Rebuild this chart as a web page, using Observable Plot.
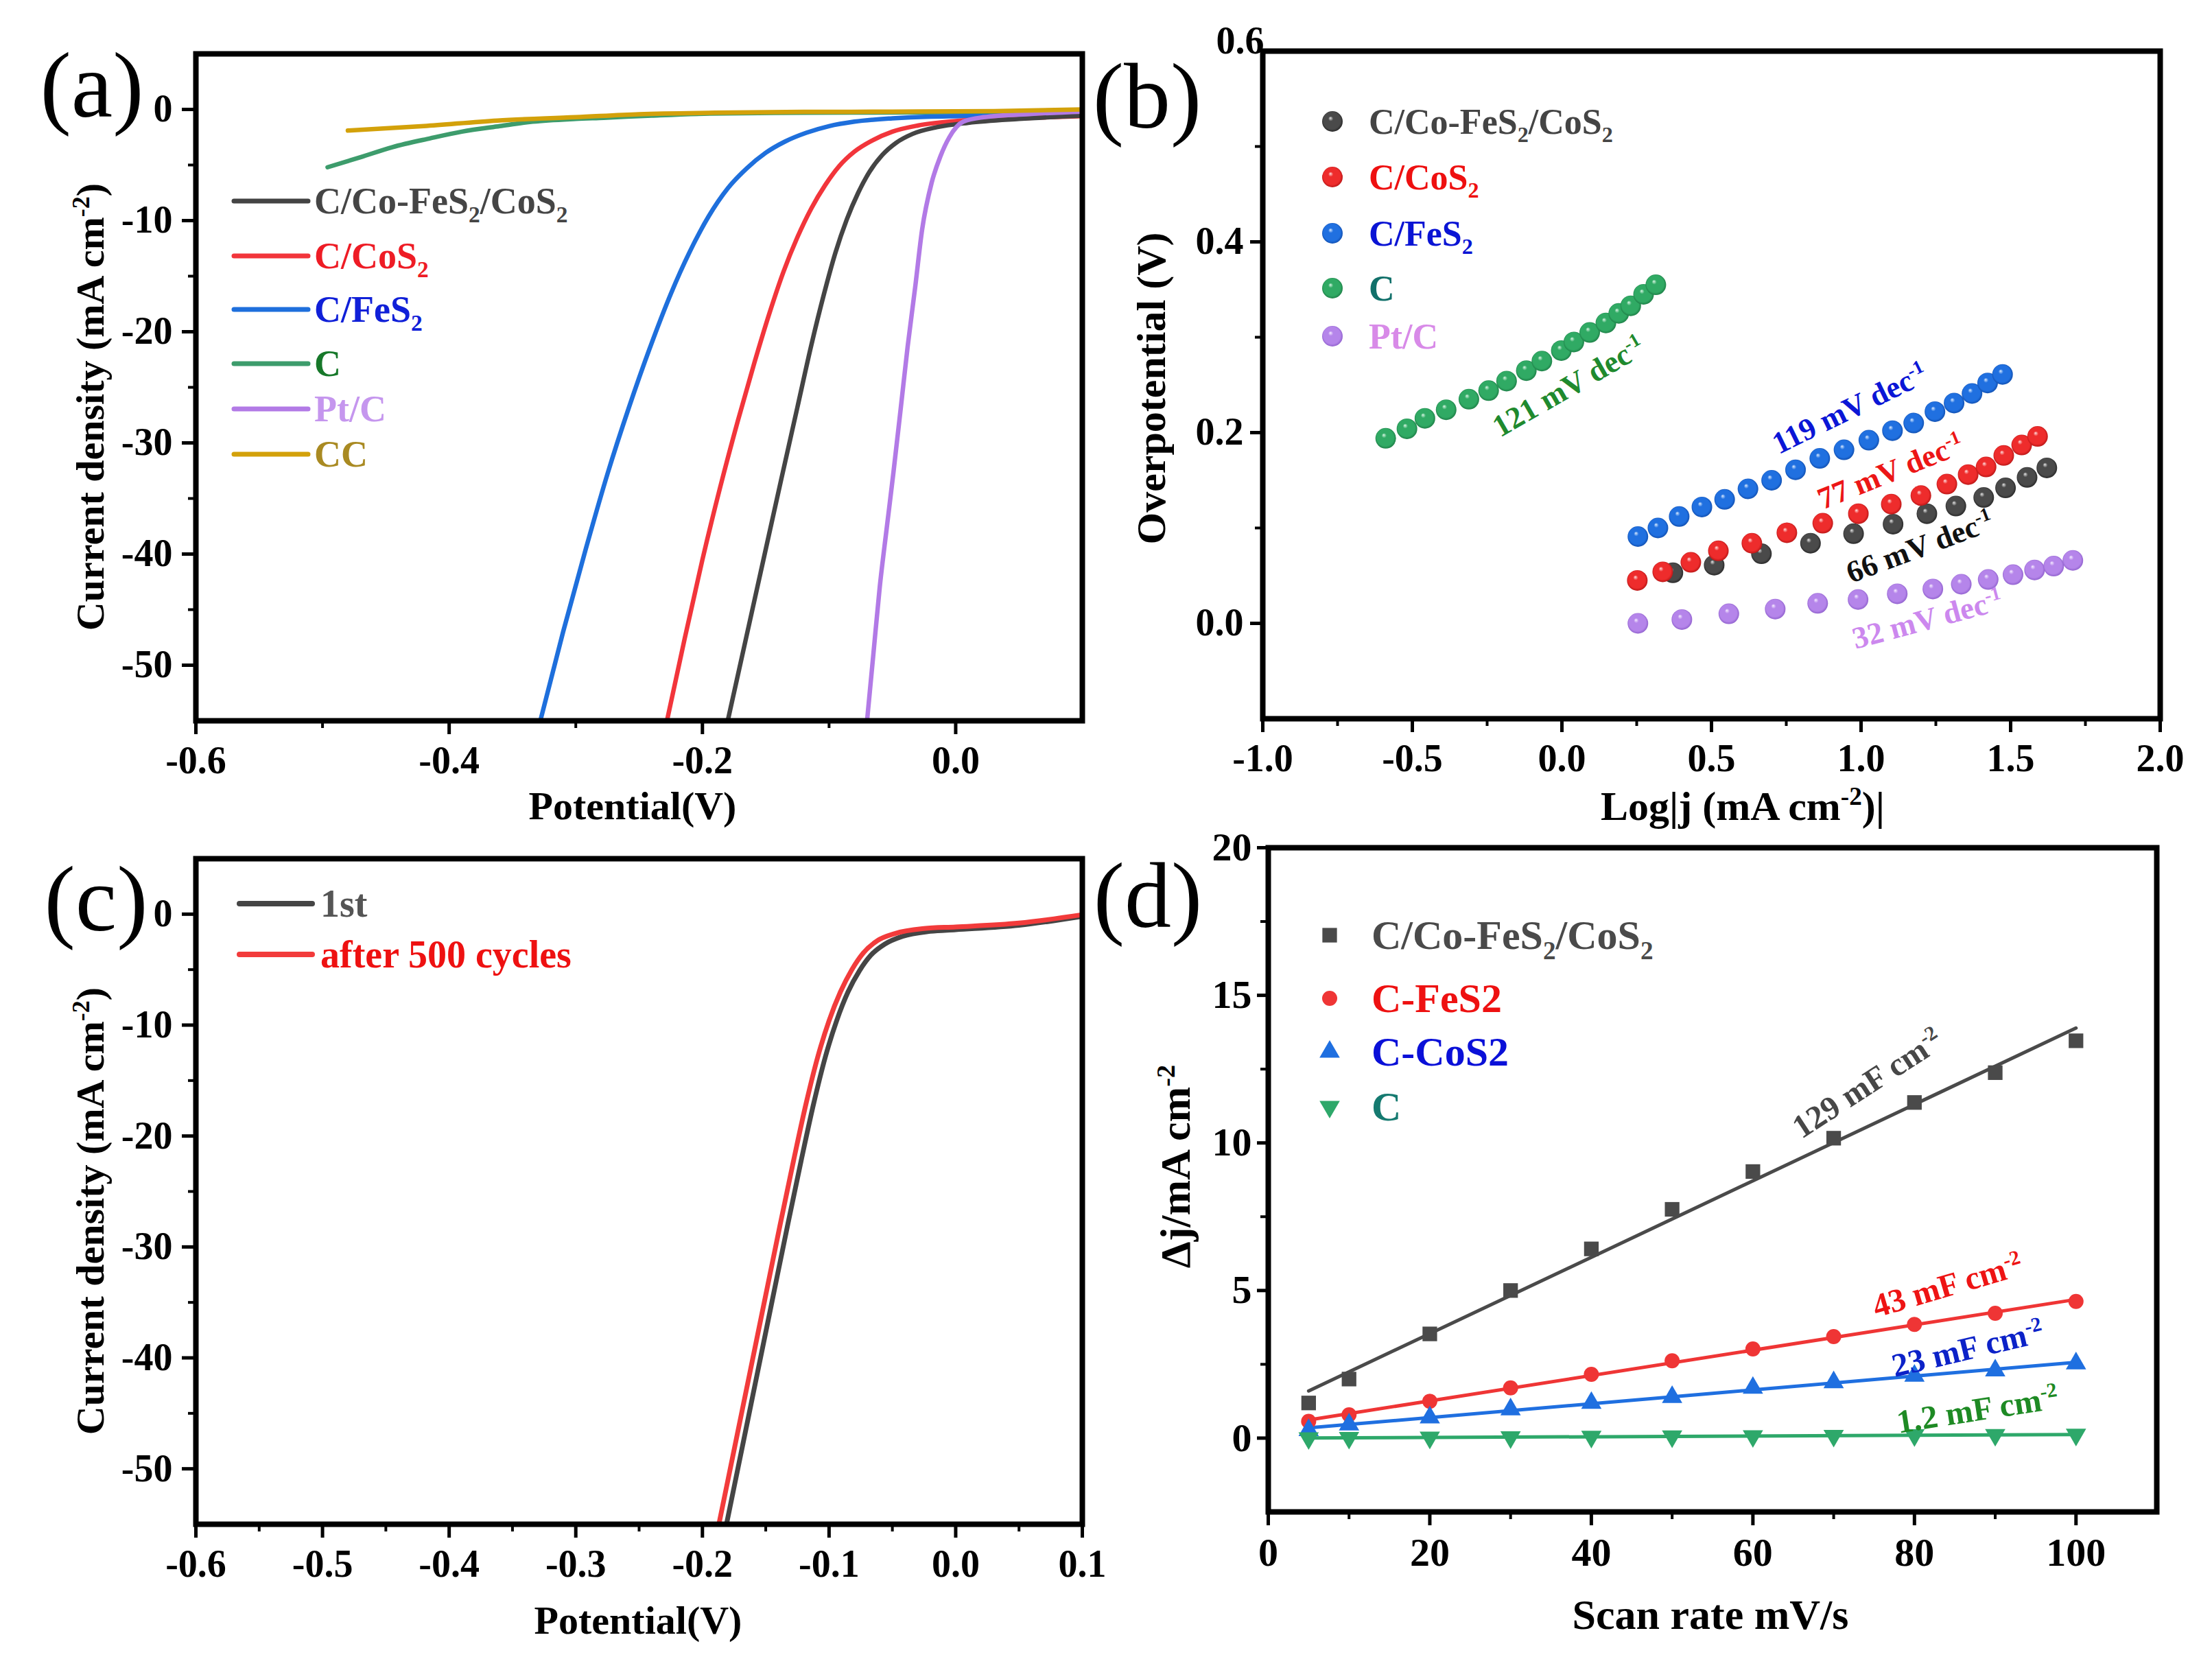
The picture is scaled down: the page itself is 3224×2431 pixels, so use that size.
<!DOCTYPE html>
<html>
<head>
<meta charset="utf-8">
<script src="https://cdn.jsdelivr.net/npm/d3@7"></script>
<script src="https://cdn.jsdelivr.net/npm/@observablehq/plot@0.6"></script>
<style>
html, body { margin: 0; padding: 0; background: #fff; }
#fig { position: relative; width: 3224px; height: 2431px; background: #fff; overflow: hidden; }
.panel { position: absolute; }
#overlay { position: absolute; left: 0; top: 0; pointer-events: none; }
</style>
</head>
<body>
<svg id="defs" width="0" height="0" style="position:absolute;left:0;top:0"><defs id="gradDefs"></defs></svg>
<div id="fig"></div>
<script>
// ---------------- DATA ----------------
// (a) LSV polarisation curves: [potential (V), current density (mA cm^-2)]
const lsvCoFeS2CoS2 = [[-0.180,-55],[-0.166,-47.8],[-0.152,-40.6],[-0.138,-33.4],[-0.125,-26.8],[-0.114,-21.2],[-0.104,-16.6],[-0.095,-12.9],[-0.086,-9.9],[-0.077,-7.5],[-0.068,-5.6],[-0.058,-4.1],[-0.047,-3.0],[-0.034,-2.2],[-0.015,-1.6],[0.010,-1.2],[0.050,-0.85],[0.100,-0.55]];
const lsvCoS2 = [[-0.228,-55],[-0.214,-47.6],[-0.200,-40.5],[-0.186,-34],[-0.172,-28],[-0.159,-22.8],[-0.147,-18.3],[-0.136,-14.6],[-0.125,-11.5],[-0.114,-8.9],[-0.103,-6.8],[-0.092,-5.1],[-0.080,-3.8],[-0.066,-2.8],[-0.050,-2.0],[-0.030,-1.45],[0.000,-1.05],[0.050,-0.8],[0.100,-0.6]];
const lsvFeS2 = [[-0.328,-55],[-0.310,-47],[-0.292,-39.5],[-0.275,-32.8],[-0.258,-26.8],[-0.241,-21.3],[-0.225,-16.6],[-0.210,-12.8],[-0.195,-9.6],[-0.180,-7.1],[-0.165,-5.3],[-0.150,-3.9],[-0.135,-2.9],[-0.118,-2.1],[-0.100,-1.5],[-0.080,-1.1],[-0.050,-0.8],[-0.020,-0.65],[0.050,-0.55],[0.100,-0.5]];
const lsvC = [[-0.496,-5.2],[-0.470,-4.3],[-0.445,-3.4],[-0.415,-2.6],[-0.390,-2.0],[-0.360,-1.5],[-0.334,-1.1],[-0.300,-0.85],[-0.278,-0.75],[-0.240,-0.55],[-0.194,-0.37],[-0.120,-0.3],[0.000,-0.25],[0.100,-0.15]];
const lsvPtC = [[-0.070,-55],[-0.065,-49],[-0.060,-43],[-0.0545,-37.7],[-0.049,-32.5],[-0.0435,-27],[-0.038,-21.4],[-0.032,-16],[-0.0265,-10.8],[-0.019,-6.6],[-0.012,-4.2],[-0.005,-2.5],[0.006,-1.1],[0.022,-0.7],[0.060,-0.4],[0.100,-0.2]];
const lsvCC = [[-0.480,-1.9],[-0.420,-1.5],[-0.362,-1.0],[-0.300,-0.7],[-0.250,-0.43],[-0.190,-0.3],[-0.120,-0.22],[-0.050,-0.2],[0.030,-0.15],[0.100,0]];

// (b) Tafel plots: log|j| and overpotential (V)
const tafelCoFeS2CoS2_x = [0.371,0.509,0.667,0.831,0.975,1.107,1.220,1.317,1.410,1.483,1.555,1.621];
const tafelCoFeS2CoS2_y = [0.053,0.061,0.073,0.084,0.094,0.104,0.115,0.123,0.132,0.142,0.153,0.163];
const tafelCoS2_x = [0.252,0.337,0.431,0.523,0.635,0.752,0.872,0.991,1.101,1.200,1.287,1.358,1.418,1.477,1.537,1.590];
const tafelCoS2_y = [0.045,0.054,0.064,0.076,0.084,0.095,0.105,0.115,0.125,0.134,0.146,0.156,0.164,0.176,0.187,0.196];
const tafelFeS2_x = [0.254,0.321,0.392,0.468,0.544,0.622,0.701,0.781,0.862,0.943,1.026,1.105,1.176,1.247,1.311,1.371,1.423,1.473];
const tafelFeS2_y = [0.091,0.100,0.112,0.122,0.130,0.141,0.150,0.161,0.173,0.182,0.192,0.202,0.210,0.222,0.231,0.241,0.252,0.261];
const tafelC_x = [-0.589,-0.518,-0.458,-0.387,-0.311,-0.245,-0.185,-0.119,-0.067,-0.002,0.040,0.093,0.147,0.190,0.230,0.273,0.314];
const tafelC_y = [0.194,0.204,0.215,0.224,0.235,0.244,0.254,0.265,0.275,0.286,0.295,0.305,0.315,0.325,0.333,0.345,0.355];
const tafelPtC_x = [0.254,0.401,0.558,0.713,0.855,0.990,1.121,1.240,1.335,1.425,1.508,1.580,1.644,1.708];
const tafelPtC_y = [0.000,0.004,0.010,0.015,0.021,0.025,0.031,0.036,0.041,0.046,0.051,0.056,0.060,0.066];
const tafelSlopes = ["121 mV dec^{-1}", "119 mV dec^{-1}", "77 mV dec^{-1}", "66 mV dec^{-1}", "32 mV dec^{-1}"];

// (c) stability: [potential (V), current density]
const cycle1st = [[-0.181,-55],[-0.169,-48.3],[-0.157,-41.6],[-0.145,-34.9],[-0.133,-28.2],[-0.122,-22.2],[-0.112,-17],[-0.103,-12.9],[-0.094,-9.6],[-0.085,-7.0],[-0.076,-5.1],[-0.067,-3.7],[-0.056,-2.7],[-0.042,-2.0],[-0.020,-1.55],[0.000,-1.4],[0.050,-1.0],[0.100,-0.2]];
const cycle500 = [[-0.187,-55],[-0.175,-48.3],[-0.163,-41.6],[-0.151,-34.9],[-0.139,-28.2],[-0.128,-22.2],[-0.118,-17],[-0.109,-12.9],[-0.100,-9.6],[-0.091,-7.0],[-0.082,-5.0],[-0.073,-3.5],[-0.062,-2.4],[-0.048,-1.75],[-0.025,-1.3],[0.000,-1.15],[0.050,-0.8],[0.100,-0.05]];

// (d) double-layer capacitance: scan rate (mV/s) vs delta j (mA cm^-2)
const scanRates = [5,10,20,30,40,50,60,70,80,90,100];
const djCoFeS2CoS2 = [1.19,2.00,3.53,5.00,6.41,7.75,9.03,10.16,11.37,12.38,13.46];
const djFeS2 = [0.57,0.79,1.25,1.70,2.16,2.62,3.02,3.44,3.85,4.23,4.63];
const djCoS2 = [0.27,0.46,0.70,0.97,1.19,1.39,1.70,1.89,2.11,2.29,2.53];
const djC = [0.00,0.01,0.02,0.03,0.05,0.06,0.07,0.08,0.10,0.11,0.12];
const cdlLabels = ["129 mF cm^{-2}", "43 mF cm^{-2}", "23 mF cm^{-2}", "1.2 mF cm^{-2}"];

// ---------------- HELPERS ----------------
const FONT = "'Liberation Serif','Times New Roman',Times,serif";
const SVGNS = "http://www.w3.org/2000/svg";
const fig = document.getElementById("fig");

function fillRich(el, str, fs) {
  el.textContent = "";
  const parts = str.split(/(\^\{[^}]*\}|_\{[^}]*\})/).filter(s => s !== "");
  let shift = 0;
  for (const p of parts) {
    const ts = document.createElementNS(SVGNS, "tspan");
    let target = 0, txt = p, size = null;
    if (p.startsWith("^{")) { target = -0.36 * fs; txt = p.slice(2, -1); size = 0.62 * fs; }
    else if (p.startsWith("_{")) { target = 0.24 * fs; txt = p.slice(2, -1); size = 0.62 * fs; }
    const dy = target - shift; shift = target;
    if (dy) ts.setAttribute("dy", dy);
    if (size) ts.setAttribute("font-size", size);
    ts.textContent = txt;
    el.appendChild(ts);
  }
}
function richPlotText(svg, fs) {
  svg.querySelectorAll("text").forEach(t => {
    const s = t.textContent;
    if (/[\^_]\{/.test(s)) fillRich(t, s, fs);
  });
}
function mount(svg, left, top) {
  const d = document.createElement("div");
  d.className = "panel";
  d.style.left = left + "px"; d.style.top = top + "px";
  d.style.width = svg.getAttribute("width") + "px";
  d.appendChild(svg);
  fig.appendChild(d);
}
const fmt1 = d => d.toFixed(1);
const fmt0 = d => String(d);
function axes(o) {
  return [
    Plot.axisX(o.xMajor, {anchor: "bottom", tickSize: 20, tickPadding: 17, tickFormat: o.xFmt, fontSize: o.fs, strokeWidth: 5, label: null}),
    Plot.axisX(o.xMinor, {anchor: "bottom", tickSize: 11, tickFormat: () => "", strokeWidth: 4, label: null}),
    Plot.axisY(o.yMajor, {anchor: "left", tickSize: o.yts ?? 20, tickPadding: o.ytp ?? 14, tickFormat: o.yFmt, fontSize: o.fs, strokeWidth: 5, label: null}),
    Plot.axisY(o.yMinor, {anchor: "left", tickSize: 11, tickFormat: () => "", strokeWidth: 4, label: null})
  ];
}
const baseStyle = {background: "transparent", overflow: "visible", fontFamily: FONT, fontWeight: "bold", fontSize: "56px", color: "black"};
const frame = () => Plot.frame({stroke: "black", strokeWidth: 8});

// sphere gradients for panel (b)
const sphereColors = {
  Black: ["#e6e6e6", "#4a4a4a", "#1c1c1c"],
  Red: ["#ffe0e0", "#ee2c2c", "#a80f0f"],
  Blue: ["#dcecff", "#2070e0", "#0c44a0"],
  Green: ["#dcf7e6", "#30aa64", "#17703c"],
  Violet: ["#f6ecff", "#b585ea", "#8455c4"]
};
const defs = d3.select("#gradDefs");
for (const [name, [hi, base, dark]] of Object.entries(sphereColors)) {
  const g = defs.append("radialGradient").attr("id", "sph" + name)
    .attr("cx", 0.5).attr("cy", 0.5).attr("r", 0.55).attr("fx", 0.4).attr("fy", 0.33);
  g.append("stop").attr("offset", 0).attr("stop-color", hi);
  g.append("stop").attr("offset", 0.22).attr("stop-color", base);
  g.append("stop").attr("offset", 0.75).attr("stop-color", base);
  g.append("stop").attr("offset", 1).attr("stop-color", dark);
}

// ---------------- PANEL (a) ----------------
const colA = {co: "#444444", cos2: "#f2353b", fes2: "#1e6fdc", c: "#3d9c6c", pt: "#b27ae6", cc: "#d3a10a"};
const lineA = (data, stroke) => Plot.line(data, {x: d => d[0], y: d => d[1], stroke, strokeWidth: 6.5, curve: "monotone-x"});
const svgA = Plot.plot({
  width: 1612, height: 1215,
  marginLeft: 285, marginRight: 35, marginTop: 78, marginBottom: 165,
  x: {domain: [-0.6, 0.1]}, y: {domain: [-55, 5]},
  style: baseStyle,
  marks: [
    lineA(lsvC, colA.c),
    lineA(lsvFeS2, colA.fes2),
    lineA(lsvCoS2, colA.cos2),
    lineA(lsvCoFeS2CoS2, colA.co),
    lineA(lsvPtC, colA.pt),
    lineA(lsvCC, colA.cc),
    ...axes({xMajor: [-0.6, -0.4, -0.2, 0.0], xMinor: [-0.5, -0.3, -0.1], xFmt: fmt1,
             yMajor: [0, -10, -20, -30, -40, -50], yMinor: [-5, -15, -25, -35, -45], yFmt: fmt0, fs: 56}),
    frame()
  ]
});
mount(svgA, 0, 0);

// ---------------- PANEL (b) ----------------
const pts = (xs, ys) => xs.map((x, i) => ({x, y: ys[i]}));
const sphere = (xs, ys, name) => Plot.dot(pts(xs, ys), {x: "x", y: "y", r: 15, fill: `url(#sph${name})`});
const tafelNotes = [
  {x: 0.023, y: 0.248, t: tafelSlopes[0], a: -30, c: "#1f8a2e"},
  {x: 0.963, y: 0.225, t: tafelSlopes[1], a: -26, c: "#0b16d6"},
  {x: 1.099, y: 0.159, t: tafelSlopes[2], a: -22, c: "#ec1616"},
  {x: 1.197, y: 0.080, t: tafelSlopes[3], a: -20.5, c: "#111111"},
  {x: 1.222, y: 0.004, t: tafelSlopes[4], a: -15, c: "#cc88ee"}
];
const bTop = [0.6];
const svgB = Plot.plot({
  width: 1612, height: 1215,
  marginLeft: 228, marginRight: 76, marginTop: 74, marginBottom: 168,
  x: {domain: [-1, 2]}, y: {domain: [-0.1, 0.6]},
  style: baseStyle,
  marks: [
    sphere(tafelC_x, tafelC_y, "Green"),
    sphere(tafelFeS2_x, tafelFeS2_y, "Blue"),
    sphere(tafelCoFeS2CoS2_x, tafelCoFeS2CoS2_y, "Black"),
    sphere(tafelCoS2_x, tafelCoS2_y, "Red"),
    sphere(tafelPtC_x, tafelPtC_y, "Violet"),
    ...tafelNotes.map(n => Plot.text([n], {x: "x", y: "y", text: "t", rotate: n.a, fill: n.c,
      fontSize: 45, fontWeight: "bold", fontFamily: FONT, textAnchor: "middle", lineAnchor: "middle"})),
    ...axes({xMajor: [-1, -0.5, 0, 0.5, 1, 1.5, 2], xMinor: [-0.75, -0.25, 0.25, 0.75, 1.25, 1.75], xFmt: fmt1,
             yMajor: [0, 0.2, 0.4], yMinor: [0.1, 0.3, 0.5], yFmt: fmt1, fs: 56, yts: 18, ytp: 10}),
    // top tick label of the y axis sits raised against the frame corner, as in the original
    Plot.text(bTop, {x: () => -1, y: d => d, text: d => d.toFixed(1), textAnchor: "end", dx: 2, dy: -14, fontSize: 56, fontWeight: "bold", fontFamily: FONT}),
    frame()
  ]
});
richPlotText(svgB, 45);
mount(svgB, 1612, 0);

// ---------------- PANEL (c) ----------------
const lineC = (data, stroke) => Plot.line(data, {x: d => d[0], y: d => d[1], stroke, strokeWidth: 7, curve: "monotone-x"});
const svgC = Plot.plot({
  width: 1612, height: 1216,
  marginLeft: 285, marginRight: 35, marginTop: 36, marginBottom: 210,
  x: {domain: [-0.6, 0.1]}, y: {domain: [-55, 5]},
  style: baseStyle,
  marks: [
    lineC(cycle1st, "#454545"),
    lineC(cycle500, "#f23b3b"),
    ...axes({xMajor: [-0.6, -0.5, -0.4, -0.3, -0.2, -0.1, 0.0, 0.1], xMinor: [-0.55, -0.45, -0.35, -0.25, -0.15, -0.05, 0.05], xFmt: fmt1,
             yMajor: [0, -10, -20, -30, -40, -50], yMinor: [-5, -15, -25, -35, -45], yFmt: fmt0, fs: 56}),
    frame()
  ]
});
mount(svgC, 0, 1215);

// ---------------- PANEL (d) ----------------
const triangleDown = {
  draw(ctx, size) {
    const y = -Math.sqrt(size / (Math.sqrt(3) * 3));
    ctx.moveTo(0, -y * 2);
    ctx.lineTo(-Math.sqrt(3) * y, y);
    ctx.lineTo(Math.sqrt(3) * y, y);
    ctx.closePath();
  }
};
const rows = arr => scanRates.map((r, i) => ({rate: r, dj: arr[i]}));
const colD = {co: "#4a4a4a", fes2: "#ef3535", cos2: "#1f6fe0", c: "#2ea86a"};
const cdlNotes = [
  {x: 74.2, y: 12.0, t: cdlLabels[0], a: -33, c: "#474747"},
  {x: 84.1, y: 5.16, t: cdlLabels[1], a: -16.3, c: "#ee1414"},
  {x: 86.6, y: 3.02, t: cdlLabels[2], a: -13.3, c: "#0c22c8"},
  {x: 87.8, y: 0.95, t: cdlLabels[3], a: -8.9, c: "#1e8a24"}
];
const seriesD = [
  {data: rows(djCoFeS2CoS2), color: colD.co, symbol: "square", r: 12},
  {data: rows(djFeS2), color: colD.fes2, symbol: "circle", r: 11},
  {data: rows(djCoS2), color: colD.cos2, symbol: "triangle", r: 11},
  {data: rows(djC), color: colD.c, symbol: triangleDown, r: 11}
];
const svgD = Plot.plot({
  width: 1612, height: 1216,
  marginLeft: 236, marginRight: 81, marginTop: 20, marginBottom: 228,
  x: {domain: [0, 110]}, y: {domain: [-2.5, 20]},
  style: baseStyle,
  marks: [
    ...seriesD.map(s => Plot.linearRegressionY(s.data, {x: "rate", y: "dj", stroke: s.color, strokeWidth: 5, ci: 0})),
    ...seriesD.map(s => Plot.dot(s.data, {x: "rate", y: "dj", symbol: s.symbol, r: s.r, fill: s.color, stroke: "none"})),
    ...cdlNotes.map(n => Plot.text([n], {x: "x", y: "y", text: "t", rotate: n.a, fill: n.c,
      fontSize: 48, fontWeight: "bold", fontFamily: FONT, textAnchor: "middle", lineAnchor: "middle"})),
    ...axes({xMajor: [0, 20, 40, 60, 80, 100], xMinor: [10, 30, 50, 70, 90], xFmt: fmt0,
             yMajor: [0, 5, 10, 15, 20], yMinor: [2.5, 7.5, 12.5, 17.5], yFmt: fmt0, fs: 58, yts: 16, ytp: 8}),
    frame()
  ]
});
richPlotText(svgD, 48);
mount(svgD, 1612, 1215);

// ---------------- OVERLAY TEXT / LEGENDS ----------------
const ov = d3.select(fig).append("svg").attr("id", "overlay")
  .attr("width", 3224).attr("height", 2431).attr("viewBox", "0 0 3224 2431");

function rich(str, {x, y, fs, fill = "black", anchor = "start", weight = "bold", rotate = 0, family = FONT}) {
  const t = ov.append("text")
    .attr("transform", `translate(${x},${y}) rotate(${rotate})`)
    .attr("text-anchor", anchor).attr("font-size", fs).attr("font-family", family)
    .attr("font-weight", weight).attr("fill", fill);
  fillRich(t.node(), str, fs);
  return t;
}
const centred = (str, cx, cy, fs, opts = {}) => {
  if (opts.rotate === -90) return rich(str, {x: cx + 0.33 * fs, y: cy, fs, anchor: "middle", ...opts});
  return rich(str, {x: cx, y: cy + 0.33 * fs, fs, anchor: "middle", ...opts});
};

// panel letters
const panelLetters = [["(a)", 134, 136], ["(b)", 1672, 152], ["(c)", 140, 1322], ["(d)", 1673, 1317]];
for (const [s, x, y] of panelLetters) rich(s, {x, y: y + 0.25 * 136, fs: 136, anchor: "middle", weight: "normal"});

// axis titles
centred("Current density (mA cm^{-2})", 132, 593, 58, {rotate: -90});
centred("Potential(V)", 922, 1175, 58);
centred("Overpotential (V)", 1678, 566, 60, {rotate: -90});
centred("Log|j (mA cm^{-2})|", 2540, 1175, 60);
centred("Current density (mA cm^{-2})", 132, 1765, 58, {rotate: -90});
centred("Potential(V)", 930, 2362, 58);
centred("Δj/mA cm^{-2}", 1714, 1700, 62, {rotate: -90});
centred("Scan rate mV/s", 2493, 2354, 62);

// legend (a)
const legA = [
  ["C/Co-FeS_{2}/CoS_{2}", colA.co, "#454545", 293],
  ["C/CoS_{2}", colA.cos2, "#ee1c25", 373],
  ["C/FeS_{2}", colA.fes2, "#1020d8", 451],
  ["C", colA.c, "#17782a", 530],
  ["Pt/C", colA.pt, "#c596ee", 596],
  ["CC", colA.cc, "#a98a22", 662]
];
for (const [s, lc, tc, y] of legA) {
  ov.append("line").attr("x1", 341).attr("x2", 449).attr("y1", y).attr("y2", y)
    .attr("stroke", lc).attr("stroke-width", 7).attr("stroke-linecap", "round");
  rich(s, {x: 458, y: y + 0.34 * 54, fs: 54, fill: tc});
}

// legend (b)
const legB = [
  ["C/Co-FeS_{2}/CoS_{2}", "Black", "#444444", 177],
  ["C/CoS_{2}", "Red", "#ee1010", 258],
  ["C/FeS_{2}", "Blue", "#0a14d4", 340],
  ["C", "Green", "#11706a", 420],
  ["Pt/C", "Violet", "#d88ae8", 490]
];
for (const [s, g, tc, y] of legB) {
  ov.append("circle").attr("cx", 1942).attr("cy", y).attr("r", 15).attr("fill", `url(#sph${g})`);
  rich(s, {x: 1995, y: y + 0.34 * 52, fs: 52, fill: tc});
}

// legend (c)
const legC = [["1st", "#454545", "#555555", 1317], ["after 500 cycles", "#f23b3b", "#ee1111", 1391]];
for (const [s, lc, tc, y] of legC) {
  ov.append("line").attr("x1", 349).attr("x2", 455).attr("y1", y).attr("y2", y)
    .attr("stroke", lc).attr("stroke-width", 8).attr("stroke-linecap", "round");
  rich(s, {x: 467, y: y + 0.34 * 56, fs: 56, fill: tc});
}

// legend (d)
const legD = [
  ["C/Co-FeS_{2}/CoS_{2}", d3.symbolSquare, 12, colD.co, "#4a4a4a", 1363],
  ["C-FeS2", d3.symbolCircle, 11, colD.fes2, "#ee1111", 1455],
  ["C-CoS2", d3.symbolTriangle, 11, colD.cos2, "#0a10d8", 1533],
  ["C", triangleDown, 11, colD.c, "#157a70", 1613]
];
for (const [s, sym, r, sc, tc, y] of legD) {
  ov.append("path").attr("transform", `translate(1938,${y})`)
    .attr("d", d3.symbol(sym, r * r * Math.PI)()).attr("fill", sc);
  rich(s, {x: 1999, y: y + 0.34 * 60, fs: 60, fill: tc});
}
</script>
</body>
</html>
